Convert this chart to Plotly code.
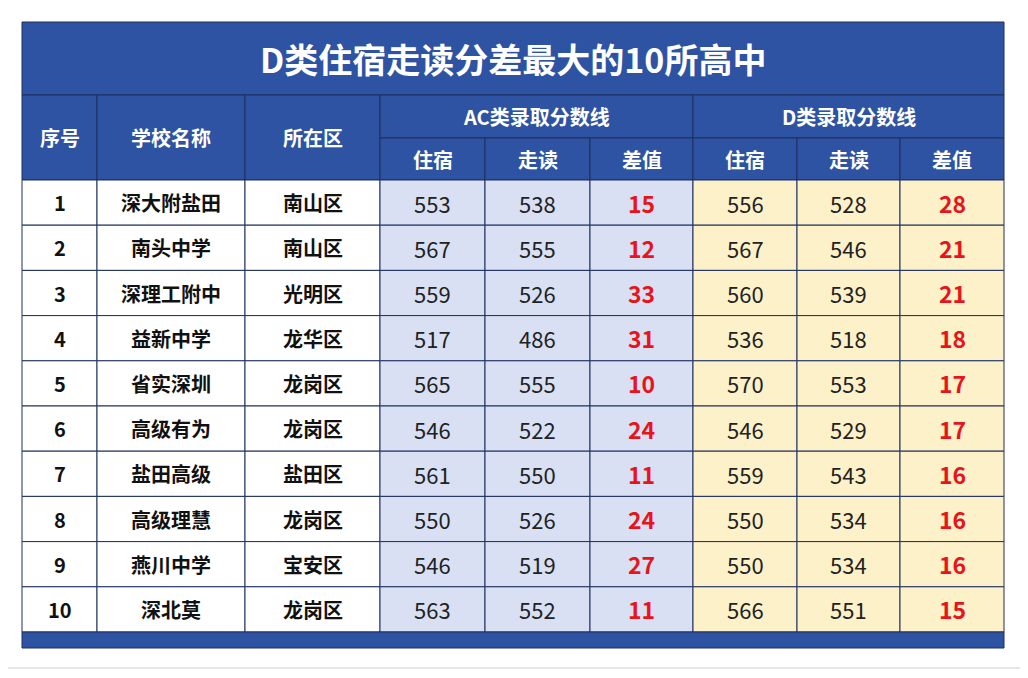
import plotly.graph_objects as go

title = "D类住宿走读分差最大的10所高中"
ranks = [str(i) for i in range(1, 11)]
schools = ["深大附盐田", "南头中学", "深理工附中", "益新中学", "省实深圳", "高级有为", "盐田高级", "高级理慧", "燕川中学", "深北莫"]
districts = ["南山区", "南山区", "光明区", "龙华区", "龙岗区", "龙岗区", "盐田区", "龙岗区", "宝安区", "龙岗区"]
ac_board = [553, 567, 559, 517, 565, 546, 561, 550, 546, 563]
ac_day = [538, 555, 526, 486, 555, 522, 550, 526, 519, 552]
ac_diff = [15, 12, 33, 31, 10, 24, 11, 24, 27, 11]
d_board = [556, 567, 560, 536, 570, 546, 559, 550, 550, 566]
d_day = [528, 546, 539, 518, 553, 529, 543, 534, 534, 551]
d_diff = [28, 21, 21, 18, 17, 17, 16, 16, 16, 15]

BLUE = "#2E53A2"
LINE = "#1F2F5E"
AC_BG = "#D9E0F4"
D_BG = "#FDF1C9"
FONT = "Noto Sans CJK SC"

cols = [22, 97, 245, 380, 485, 590, 693, 797, 900, 1004]
top, title_bot, h1_bot, h2_bot = 22, 95, 138, 180
row_h = 45.2
body_bot = h2_bot + row_h * 10
bottom = 648

fig = go.Figure()
shapes = []
ann = []

def rect(x0, y0, x1, y1, fill, line=LINE, w=1):
    shapes.append(dict(type="rect", xref="x", yref="y", x0=x0, y0=y0, x1=x1, y1=y1,
                       fillcolor=fill, line=dict(color=line, width=w), layer="below"))

def text(x, y, s, size, color, bold=True):
    ann.append(dict(x=x, y=y, xref="x", yref="y", text=f"<b>{s}</b>" if bold else s,
                    showarrow=False, font=dict(family=FONT, size=size, color=color)))

# outer frame
rect(5, 5, 1022, 668, "white", "#CCCCCC", 1)
# title
rect(cols[0], top, cols[-1], title_bot, BLUE)
text((cols[0] + cols[-1]) / 2, (top + title_bot) / 2, title, 34, "white")
# header
for i, lab in enumerate(["序号", "学校名称", "所在区"]):
    rect(cols[i], title_bot, cols[i + 1], h2_bot, BLUE)
    text((cols[i] + cols[i + 1]) / 2, (title_bot + h2_bot) / 2, lab, 20, "white")
for g, lab in [(3, "AC类录取分数线"), (6, "D类录取分数线")]:
    rect(cols[g], title_bot, cols[g + 3], h1_bot, BLUE)
    text((cols[g] + cols[g + 3]) / 2, (title_bot + h1_bot) / 2, lab, 20, "white")
    for k, sub in enumerate(["住宿", "走读", "差值"]):
        rect(cols[g + k], h1_bot, cols[g + k + 1], h2_bot, BLUE)
        text((cols[g + k] + cols[g + k + 1]) / 2, (h1_bot + h2_bot) / 2, sub, 20, "white")

# body
for r in range(10):
    y0 = h2_bot + r * row_h
    y1 = y0 + row_h
    yc = (y0 + y1) / 2
    vals = [ranks[r], schools[r], districts[r], ac_board[r], ac_day[r], ac_diff[r],
            d_board[r], d_day[r], d_diff[r]]
    for c, v in enumerate(vals):
        fill = "white" if c < 3 else (AC_BG if c < 6 else D_BG)
        rect(cols[c], y0, cols[c + 1], y1, fill)
        xc = (cols[c] + cols[c + 1]) / 2
        if c < 3:
            text(xc, yc, v, 20, "#111111")
        elif c in (5, 8):
            text(xc, yc, v, 23, "#E8141B")
        else:
            text(xc, yc, v, 22, "#222222", bold=False)

rect(cols[0], body_bot, cols[-1], bottom, BLUE)

# the page adds an 8px offset, so shift the axis ranges to compensate
fig.update_layout(
    width=1028, height=678, margin=dict(l=0, r=0, t=0, b=0),
    paper_bgcolor="white", plot_bgcolor="white",
    xaxis=dict(range=[8, 1036], visible=False, fixedrange=True),
    yaxis=dict(range=[686, 8], visible=False, fixedrange=True),
    shapes=shapes, annotations=ann, showlegend=False,
)
fig.write_html("out.html")
